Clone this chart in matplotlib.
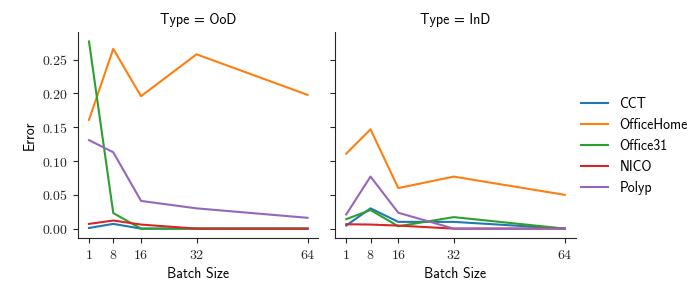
import matplotlib
matplotlib.use("Agg")
import matplotlib.pyplot as plt

plt.rcParams['font.family'] = ['cmss10', 'DejaVu Sans']
plt.rcParams['mathtext.fontset'] = 'cm'
plt.rcParams['axes.unicode_minus'] = False
plt.rcParams['font.size'] = 10
plt.rcParams['axes.edgecolor'] = '#262626'
plt.rcParams['xtick.color'] = '#262626'
plt.rcParams['ytick.color'] = '#262626'

batch = [1, 8, 16, 32, 64]
types = ["OoD", "InD"]
datasets = ["CCT", "OfficeHome", "Office31", "NICO", "Polyp"]
colors = ["#1f77b4", "#ff7f0e", "#2ca02c", "#d62728", "#9467bd"]
yticks = [0.0, 0.05, 0.10, 0.15, 0.20, 0.25]

ood = {
    "CCT":        [0.001, 0.007, 0.000, 0.000, 0.000],
    "OfficeHome": [0.161, 0.266, 0.196, 0.258, 0.198],
    "Office31":   [0.277, 0.023, 0.000, 0.000, 0.000],
    "NICO":       [0.007, 0.012, 0.006, 0.000, 0.000],
    "Polyp":      [0.131, 0.113, 0.041, 0.030, 0.016],
}
ind = {
    "CCT":        [0.0045, 0.030, 0.010, 0.010, 0.000],
    "OfficeHome": [0.111, 0.147, 0.060, 0.077, 0.050],
    "Office31":   [0.014, 0.0275, 0.0035, 0.017, 0.000],
    "NICO":       [0.0065, 0.006, 0.0045, 0.000, 0.000],
    "Polyp":      [0.021, 0.077, 0.0235, 0.000, 0.000],
}
values = {"OoD": ood, "InD": ind}

fig, axes = plt.subplots(1, 2, figsize=(6.97, 2.92), dpi=100, sharey=True)
fig.subplots_adjust(left=0.112, right=0.826, bottom=0.185, top=0.89, wspace=0.07)

for ax, t in zip(axes, types):
    for name, c in zip(datasets, colors):
        ax.plot(batch, values[t][name], color=c, lw=1.5, label=name)
    ax.set_title(f"Type = {t}", fontsize=10)
    ax.set_xticks(batch)
    ax.set_xticklabels([f"${b}$" for b in batch])
    ax.set_xlabel("Batch Size")
    ax.spines['top'].set_visible(False)
    ax.spines['right'].set_visible(False)
    ax.tick_params(length=3.5, width=0.8, labelsize=10)

axes[0].set_ylabel("Error")
axes[0].set_yticks(yticks)
axes[0].set_yticklabels([f"${v:.2f}$" for v in yticks])
axes[1].tick_params(labelleft=False)

handles, labels = axes[0].get_legend_handles_labels()
fig.legend(handles, labels, loc="center left", bbox_to_anchor=(0.815, 0.5), frameon=False)

fig.savefig("out.png", dpi=100)
